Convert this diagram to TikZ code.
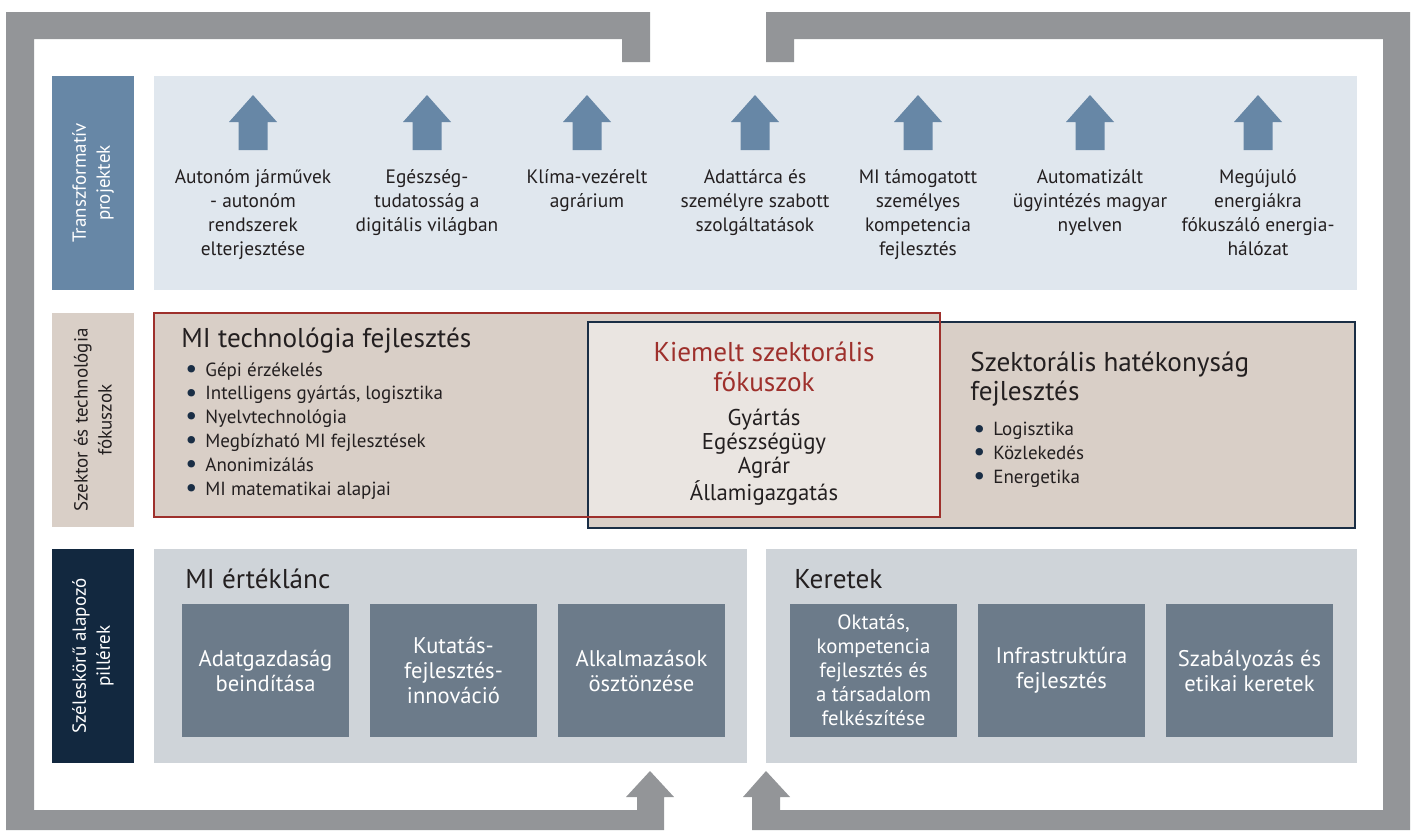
\documentclass[tikz,border=0pt]{standalone}
\usepackage{fontspec}
\setmainfont{PT Sans}
\usepackage{graphicx}
\usepackage{tikz}

\definecolor{framegray}{HTML}{939598}
\definecolor{slateblue}{HTML}{6787A6}
\definecolor{toppanel}{HTML}{E0E7EE}
\definecolor{beige}{HTML}{D9CFC7}
\definecolor{overlap}{HTML}{EAE5E1}
\definecolor{redline}{HTML}{9E302C}
\definecolor{navyline}{HTML}{1A2E45}
\definecolor{navylabel}{HTML}{12283F}
\definecolor{basepanel}{HTML}{CFD4D9}
\definecolor{pillarfill}{HTML}{6C7B8A}
\definecolor{txtdark}{HTML}{231F20}

\tikzset{
  toptext/.style={anchor=north, align=center, inner sep=0pt, text=txtdark,
    font=\fontsize{9.7}{12}\selectfont},
  rowtext/.style={rotate=90, align=center, inner sep=0pt,
    font=\fontsize{9.5}{12}\selectfont},
  headtext/.style={inner sep=0pt, text=txtdark, font=\fontsize{13.6}{14.5}\selectfont},
  listtext/.style={anchor=north west, align=left, inner sep=0pt, text=txtdark,
    font=\fontsize{9.5}{11.9}\selectfont},
  pillar/.style={fill=pillarfill, text=white, align=center, inner sep=0pt,
    minimum width=83.5pt, minimum height=66.5pt, font=\fontsize{11.3}{12.5}\selectfont},
}

\newcommand{\bul}{\makebox[10pt][l]{\color{navyline}\raisebox{-0.6pt}{\scalebox{1.4}{\textbullet}}}}

\begin{document}
\begin{tikzpicture}[x=0.5pt, y=-0.5pt]
  \useasboundingbox (0, 0) rectangle (1417, 830);

  % frame
  \fill[framegray] (6, 12) -- (650, 12) -- (650, 62) -- (622, 62) -- (622, 39) -- (34, 39)
    -- (34, 810) -- (637, 810) -- (637, 797) -- (626, 797) -- (650, 771) -- (674, 797)
    -- (664, 797) -- (664, 830) -- (6, 830) -- cycle;
  \fill[framegray] (766, 12) -- (1410, 12) -- (1410, 830) -- (752, 830) -- (752, 797)
    -- (743, 797) -- (766, 771) -- (790, 797) -- (780, 797) -- (780, 810) -- (1383, 810)
    -- (1383, 39) -- (794, 39) -- (794, 62) -- (766, 62) -- cycle;

  % row labels
  \fill[slateblue] (52, 76) rectangle (134, 290);
  \fill[beige] (52, 313) rectangle (134, 527);
  \fill[navylabel] (52, 549) rectangle (134, 763);
  \node[rowtext, text=white] (row1) at (93, 183) {Transzformatív\\projektek};
  \node[rowtext, text=txtdark] (row2) at (93, 420) {Szektor és technológia\\fókuszok};
  \node[rowtext, text=white] (row3) at (93, 656) {Széleskörű alapozó\\pillérek};

  % transformative projects
  \fill[toppanel] (154, 76) rectangle (1357, 290);
  \fill[slateblue] (253, 95) -- ++(24, 27) -- ++(-9.5, 0) -- ++(0, 28) -- ++(-29, 0) -- ++(0, -28) -- ++(-9.5, 0) -- cycle;
  \fill[slateblue] (427, 95) -- ++(24, 27) -- ++(-9.5, 0) -- ++(0, 28) -- ++(-29, 0) -- ++(0, -28) -- ++(-9.5, 0) -- cycle;
  \fill[slateblue] (587, 95) -- ++(24, 27) -- ++(-9.5, 0) -- ++(0, 28) -- ++(-29, 0) -- ++(0, -28) -- ++(-9.5, 0) -- cycle;
  \fill[slateblue] (755, 95) -- ++(24, 27) -- ++(-9.5, 0) -- ++(0, 28) -- ++(-29, 0) -- ++(0, -28) -- ++(-9.5, 0) -- cycle;
  \fill[slateblue] (918, 95) -- ++(24, 27) -- ++(-9.5, 0) -- ++(0, 28) -- ++(-29, 0) -- ++(0, -28) -- ++(-9.5, 0) -- cycle;
  \fill[slateblue] (1090, 95) -- ++(24, 27) -- ++(-9.5, 0) -- ++(0, 28) -- ++(-29, 0) -- ++(0, -28) -- ++(-9.5, 0) -- cycle;
  \fill[slateblue] (1258, 95) -- ++(24, 27) -- ++(-9.5, 0) -- ++(0, 28) -- ++(-29, 0) -- ++(0, -28) -- ++(-9.5, 0) -- cycle;

  \node[toptext] (proj1) at (253, 169) {Autonóm járművek\\- autonóm\\rendszerek\\elterjesztése};
  \node[toptext] (proj2) at (427, 169) {Egészség-\\tudatosság a\\digitális világban};
  \node[toptext] (proj3) at (587, 169) {Klíma-vezérelt\\agrárium};
  \node[toptext] (proj4) at (755, 169) {Adattárca és\\személyre szabott\\szolgáltatások};
  \node[toptext] (proj5) at (918, 169) {MI támogatott\\személyes\\kompetencia\\fejlesztés};
  \node[toptext] (proj6) at (1090, 169) {Automatizált\\ügyintézés magyar\\nyelven};
  \node[toptext] (proj7) at (1258, 169) {Megújuló\\energiákra\\fókuszáló energia-\\hálózat};

  % sector and technology focus
  \fill[beige] (154, 313) rectangle (940, 517);
  \fill[beige] (588, 322) rectangle (1355, 528);
  \fill[overlap] (588, 322) rectangle (940, 517);
  \draw[navyline, line width=1pt] (588, 322) rectangle (1355, 528);
  \draw[redline, line width=1pt] (154, 313) rectangle (940, 517);

  \node[headtext, anchor=base west] (tech) at (181, 347) {MI technológia fejlesztés};
  \node[listtext] (techlist) at (185, 362) {\bul Gépi érzékelés\\\bul Intelligens gyártás, logisztika\\\bul Nyelvtechnológia\\\bul Megbízható MI fejlesztések\\\bul Anonimizálás\\\bul MI matematikai alapjai};

  \node[headtext, anchor=north, align=center, text=redline, font=\fontsize{13.6}{15}\selectfont] (kiemelt) at (764, 342) {Kiemelt szektorális\\fókuszok};
  \node[anchor=north, align=center, inner sep=0pt, text=txtdark, font=\fontsize{11.4}{11.9}\selectfont] (sectors) at (764, 409) {Gyártás\\Egészségügy\\Agrár\\Államigazgatás};

  \node[headtext, anchor=north west, align=left] (hatekony) at (970, 352) {Szektorális hatékonyság\\fejlesztés};
  \node[listtext] (hatlist) at (973, 422) {\bul Logisztika\\\bul Közlekedés\\\bul Energetika};

  % foundation pillars
  \fill[basepanel] (154, 549) rectangle (747, 763);
  \fill[basepanel] (766, 549) rectangle (1357, 763);
  \node[headtext, anchor=base west] (lanc) at (185, 588) {MI értéklánc};
  \node[headtext, anchor=base west] (keretek) at (794, 588) {Keretek};

  \node[pillar] (adat) at (265.5, 670.5) {Adatgazdaság\\beindítása};
  \node[pillar] (kfi) at (453.5, 670.5) {Kutatás-\\fejlesztés-\\innováció};
  \node[pillar] (alk) at (641.5, 670.5) {Alkalmazások\\ösztönzése};
  \node[pillar, font=\fontsize{10.4}{12}\selectfont] (oktatas) at (873.5, 670.5) {Oktatás,\\kompetencia\\fejlesztés és\\a társadalom\\felkészítése};
  \node[pillar] (infra) at (1061.5, 670.5) {Infrastruktúra\\fejlesztés};
  \node[pillar] (szab) at (1249.5, 670.5) {Szabályozás és\\etikai keretek};
\end{tikzpicture}
\end{document}
